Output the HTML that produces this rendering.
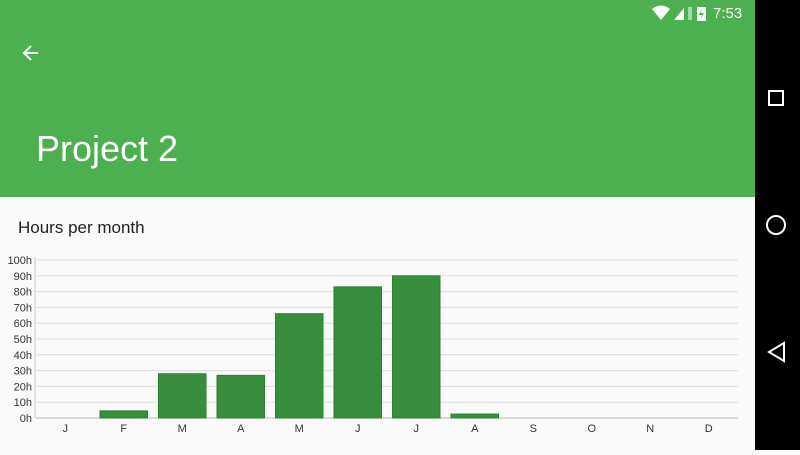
<!DOCTYPE html>
<html><head><meta charset="utf-8"><style>
body{margin:0;width:800px;height:450px;overflow:hidden;font-family:"Liberation Sans",sans-serif;background:#fafafa;position:relative}
.hdr{position:absolute;left:0;top:0;width:755px;height:197px;background:#4caf50}
.nav{position:absolute;left:755px;top:0;width:45px;height:450px;background:#000}
</style></head><body>
<div class="hdr">
  <svg style="position:absolute;left:20px;top:42px" width="22" height="22" viewBox="0 0 22 22"><path d="M18 11H4M11 4L4 11L11 18" stroke="#fff" stroke-width="2" fill="none"/></svg>
  <div style="position:absolute;left:36px;top:128px;font-size:36px;color:#fff">Project 2</div>
  <svg style="position:absolute;left:650px;top:4px" width="60" height="18"><path d="M2 5 Q11 -2 20 5 L11 16Z" fill="#fff"/><path d="M24 16 L34 4 L34 16Z" fill="#fff"/><rect x="38" y="3" width="4" height="13" fill="#fff" opacity=".5"/><rect x="47" y="3" width="9" height="14" fill="#fff"/><path d="M52 5 L49 11 L52 11 L50 16 L54 9 L51 9Z" fill="#4caf50"/></svg>
  <div style="position:absolute;left:713px;top:5px;font-size:15px;color:#fff">7:53</div>
</div>
<div class="nav">
  <svg width="45" height="450">
    <rect x="769" y="91" width="14" height="14" fill="none" stroke="#fff" stroke-width="2" transform="translate(-755,0)"/>
    <circle cx="21" cy="225" r="9" fill="none" stroke="#fff" stroke-width="2"/>
    <path d="M29 343 L14 352 L29 361Z" fill="none" stroke="#fff" stroke-width="2"/>
  </svg>
</div>
<div style="position:absolute;left:18px;top:218px;font-size:17px;color:#222">Hours per month</div>
<svg id="chart" style="position:absolute;left:0;top:0" width="755" height="450"></svg>
<script>
const categories=["J","F","M","A","M","J","J","A","S","O","N","D"];
const hours=[0,4.5,28,27,66,83,90,2.5,0,0,0,0];
const yTicks=[0,10,20,30,40,50,60,70,80,90,100];
const svg=document.getElementById('chart');
const NS='http://www.w3.org/2000/svg';
const x0=36,x1=738,y0=418,yTop=260,yMax=100;
const bw=(x1-x0)/categories.length;
const Y=v=>y0-(v/yMax)*(y0-yTop);
const X=i=>x0+bw*i;
function mk(t,a){const e=document.createElementNS(NS,t);for(const k in a)e.setAttribute(k,a[k]);svg.appendChild(e);return e;}
yTicks.forEach(t=>{
  const l=mk('line',{x1:x0,x2:x1,y1:Y(t),y2:Y(t),stroke:t===0?'#bbb':'#ddd','stroke-width':1});
  
  
  const tx=mk('text',{x:x0-4,y:Y(t)+4,'text-anchor':'end','font-size':11,fill:'#333','font-family':'Liberation Sans'});
  tx.textContent=t+'h';
  
  
});
const ax=mk('line',{x1:x0-1,x2:x0-1,y1:yTop-3,y2:y0,stroke:'#ccc'});


categories.forEach((c,i)=>{
  const v=hours[i];
  if(v>0){
    const r=mk('rect',{x:X(i)+5.5,y:Y(v),width:bw-11,height:y0-Y(v),fill:'#388e3c',stroke:'#2e7d32','stroke-width':1});
    
    
  }
  const t=mk('text',{x:X(i)+bw/2,y:432,'text-anchor':'middle','font-size':11,fill:'#333','font-family':'Liberation Sans'});
  t.textContent=c;
  
  
});
</script>
</body></html>
